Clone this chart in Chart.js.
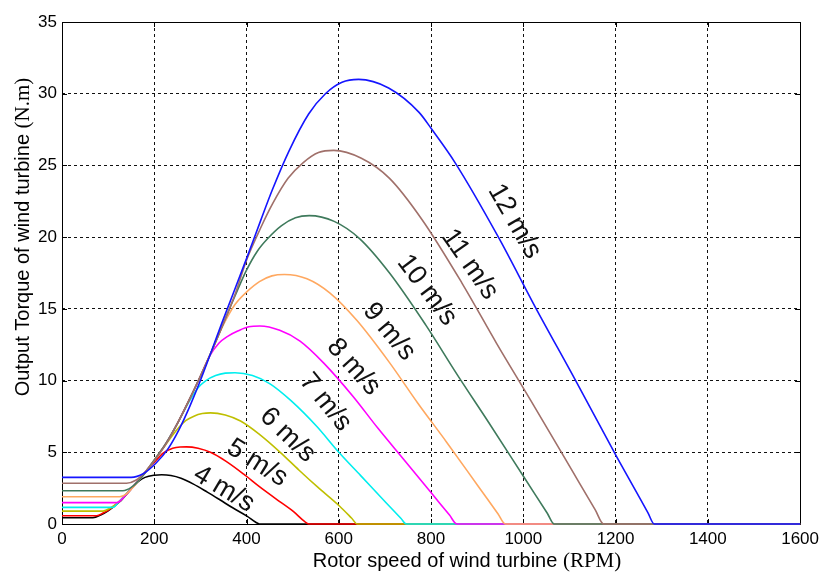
<!DOCTYPE html>
<html>
<head>
<meta charset="utf-8">
<script src="https://cdn.jsdelivr.net/npm/chart.js@4.4.1/dist/chart.umd.min.js"></script>
<style>
  html, body { margin: 0; padding: 0; background: #fff; }
  #wrap { width: 824px; height: 572px; }
</style>
</head>
<body>
<div id="wrap"><canvas id="torqueChart" width="824" height="572"></canvas></div>
<script>
// wind speed of each curve
const speeds = ['4 m/s', '5 m/s', '6 m/s', '7 m/s', '8 m/s', '9 m/s', '10 m/s', '11 m/s', '12 m/s'];
const xTicks = [0, 200, 400, 600, 800, 1000, 1200, 1400, 1600];
const yTicks = [0, 5, 10, 15, 20, 25, 30, 35];

// [rpm, torque N.m]
const ws4 = [[0,0.44],[67,0.44],[85,0.65],[100,0.92],[125,1.55],[150,2.45],[165,2.95],[180,3.25],[200,3.4],[216,3.43],[236,3.38],[258,3.19],[284,2.8],[315,2.22],[343,1.67],[370,1.13],[401,0.55],[420,0.12],[428,0],[1600,0]];
const ws5 = [[0,0.58],[75,0.58],[90,0.78],[100,0.95],[125,1.6],[150,2.45],[175,3.4],[200,4.3],[220,4.95],[240,5.28],[256,5.37],[270,5.38],[295,5.28],[323,4.98],[355,4.38],[394,3.47],[428,2.6],[463,1.77],[502,0.86],[525,0.2],[535,0],[1600,0]];
const ws6 = [[0,0.9],[89,0.9],[105,1.12],[125,1.6],[150,2.45],[175,3.4],[200,4.45],[225,5.55],[250,6.6],[268,7.2],[286,7.52],[304,7.7],[322,7.75],[354,7.6],[387,7.18],[426,6.3],[473,5.0],[514,3.75],[555,2.55],[602,1.24],[628,0.4],[640,0],[1600,0]];
const ws7 = [[0,1.16],[110,1.16],[125,1.6],[150,2.45],[175,3.4],[200,4.45],[225,5.6],[250,7.0],[275,8.5],[295,9.5],[312,10.0],[333,10.35],[354,10.52],[375,10.55],[413,10.35],[451,9.77],[497,8.58],[552,6.81],[600,5.0],[647,3.39],[702,1.5],[735,0.38],[746,0],[1600,0]];
const ws8 = [[0,1.49],[119,1.49],[135,1.9],[150,2.45],[175,3.4],[200,4.45],[225,5.6],[250,7.0],[275,8.6],[300,10.3],[320,11.7],[340,12.6],[360,13.1],[381,13.45],[405,13.75],[429,13.8],[472,13.5],[516,12.75],[568,11.2],[631,8.89],[685,6.67],[740,4.53],[803,2.07],[840,0.62],[856,0],[1600,0]];
const ws9 = [[0,1.9],[125,1.9],[140,2.1],[155,2.6],[175,3.4],[200,4.45],[225,5.6],[250,7.0],[275,8.6],[300,10.3],[325,12.1],[350,13.9],[375,15.3],[401,16.2],[428,16.9],[455,17.3],[482,17.4],[531,17.1],[581,16.1],[639,14.2],[710,11.25],[771,8.44],[833,5.74],[903,2.6],[945,0.72],[961,0],[1600,0]];
const ws10 = [[0,2.32],[132,2.32],[150,2.55],[175,3.35],[200,4.45],[225,5.6],[250,7.0],[275,8.6],[300,10.3],[325,12.1],[350,14.0],[375,15.9],[400,17.7],[423,19.0],[446,19.9],[476,20.8],[506,21.35],[536,21.5],[590,21.1],[645,19.9],[710,17.5],[788,13.9],[857,10.4],[925,7.08],[1003,3.19],[1052,0.75],[1067,0],[1600,0]];
const ws11 = [[0,2.84],[140,2.84],[160,3.05],[180,3.6],[200,4.4],[225,5.55],[250,7.0],[275,8.6],[300,10.3],[325,12.1],[350,14.0],[375,16.0],[400,18.4],[430,20.6],[456,22.3],[490,24.1],[523,25.2],[556,25.9],[589,26.05],[649,25.5],[710,24.1],[781,21.2],[867,16.8],[942,12.6],[1017,8.57],[1104,3.82],[1156,0.98],[1174,0],[1600,0]];
const ws12 = [[0,3.25],[150,3.25],[176,3.5],[204,4.25],[229,5.2],[254,6.6],[277,8.2],[300,10.0],[350,14.3],[400,18.5],[430,21.1],[456,23.3],[492,26.0],[535,28.6],[571,30.0],[607,30.8],[643,31.0],[708,30.4],[774,28.7],[802,27.5],[852,25.2],[946,20.0],[1028,15.0],[1110,10.2],[1204,4.6],[1270,0.8],[1284,0],[1600,0]];

const series = [ws4, ws5, ws6, ws7, ws8, ws9, ws10, ws11, ws12];
const lineColors = ['#000000', '#ff0000', '#bfbf00', '#00eeee', '#ff00ff', '#ffa860', '#3f7a5c', '#a0706a', '#1515ff'];

// where each curve label sits (rpm, N.m) and its tilt in degrees
const labelAt = [[351,2.44],[423,4.25],[489,6.2],[571,8.5],[632,10.95],[709,13.4],[791,16.3],[884,18.1],[981,21.1]];
const labelAngle = [31, 32, 44, 51, 48, 50, 53, 55, 60];

const frame = {
  id: 'frame',
  beforeDatasetsDraw(chart) {
    const { ctx, chartArea: a, scales } = chart;
    ctx.save();
    ctx.strokeStyle = '#000';
    ctx.lineWidth = 1;
    ctx.beginPath();
    // inward tick marks on all four sides
    xTicks.forEach(v => {
      const px = Math.round(scales.x.getPixelForValue(v)) + 0.5;
      ctx.moveTo(px, a.bottom); ctx.lineTo(px, a.bottom - 5);
      ctx.moveTo(px, a.top); ctx.lineTo(px, a.top + 5);
    });
    yTicks.forEach(v => {
      const py = Math.round(scales.y.getPixelForValue(v)) + 0.5;
      ctx.moveTo(a.left, py); ctx.lineTo(a.left + 5, py);
      ctx.moveTo(a.right, py); ctx.lineTo(a.right - 5, py);
    });
    ctx.stroke();
    ctx.strokeRect(Math.round(a.left) + 0.5, Math.round(a.top) + 0.5,
      Math.round(a.right - a.left), Math.round(a.bottom - a.top));
    ctx.restore();
  },
  afterDatasetsDraw(chart) {
    const { ctx, scales } = chart;
    ctx.save();
    ctx.fillStyle = '#111';
    ctx.font = '27px "Liberation Sans", Arial, sans-serif';
    ctx.textAlign = 'center';
    ctx.textBaseline = 'middle';
    speeds.forEach((txt, i) => {
      const px = scales.x.getPixelForValue(labelAt[i][0]);
      const py = scales.y.getPixelForValue(labelAt[i][1]);
      ctx.save();
      ctx.translate(px, py);
      ctx.rotate(labelAngle[i] * Math.PI / 180);
      ctx.fillText(txt, 0, 0);
      ctx.restore();
    });

    // axis titles: sans text + serif unit, as in the original
    const sans = '20px "Liberation Sans", Arial, sans-serif';
    const serif = '21px "Liberation Serif", "Times New Roman", serif';
    ctx.fillStyle = '#000';
    ctx.textAlign = 'left';
    ctx.textBaseline = 'alphabetic';

    ctx.font = sans;
    const xa = 'Rotor speed of wind turbine ';
    const wa = ctx.measureText(xa).width;
    ctx.font = serif;
    const wb = ctx.measureText('(RPM)').width;
    const sx = 467 - (wa + wb) / 2;
    ctx.font = sans; ctx.fillText(xa, sx, 567);
    ctx.font = serif; ctx.fillText('(RPM)', sx + wa, 567);

    ctx.save();
    ctx.translate(29, 0);
    ctx.rotate(-Math.PI / 2);
    ctx.font = sans;
    const ya = 'Output Torque of wind turbine ';
    const wya = ctx.measureText(ya).width;
    ctx.font = serif;
    const wyb = ctx.measureText('(N.m)').width;
    const sy = -(237 + (wya + wyb) / 2);
    ctx.font = sans; ctx.fillText(ya, sy, 0);
    ctx.font = serif; ctx.fillText('(N.m)', sy + wya, 0);
    ctx.restore();
    ctx.restore();
  }
};

new Chart(document.getElementById('torqueChart'), {
  type: 'line',
  data: {
    datasets: series.map((pts, i) => ({
      label: speeds[i],
      data: pts,
      borderColor: lineColors[i],
      borderWidth: 1.6,
      pointRadius: 0,
      cubicInterpolationMode: 'monotone',
      clip: 3,
      order: series.length - i
    }))
  },
  options: {
    responsive: false,
    animation: false,
    devicePixelRatio: 1,
    layout: { padding: { left: 0, right: 20, top: 22, bottom: 0 } },
    plugins: { legend: { display: false }, tooltip: { enabled: false } },
    scales: {
      x: {
        type: 'linear', min: 0, max: 1600,
        afterBuildTicks: s => { s.ticks = xTicks.map(v => ({ value: v })); },
        afterFit: s => { s.height = 48; },
        grid: { color: '#111', lineWidth: 1, drawTicks: false },
        border: { display: false, dash: [3, 3] },
        ticks: { color: '#000', padding: 5, maxRotation: 0, autoSkip: false,
                 callback: v => String(v),
                 font: { family: '"Liberation Sans", Arial, sans-serif', size: 17 } }
      },
      y: {
        type: 'linear', min: 0, max: 35,
        afterBuildTicks: s => { s.ticks = yTicks.map(v => ({ value: v })); },
        afterFit: s => { s.width = 62; },
        grid: { color: '#111', lineWidth: 1, drawTicks: false },
        border: { display: false, dash: [3, 3] },
        ticks: { color: '#000', padding: 5, autoSkip: false,
                 callback: v => String(v),
                 font: { family: '"Liberation Sans", Arial, sans-serif', size: 17 } }
      }
    }
  },
  plugins: [frame]
});
</script>
</body>
</html>
